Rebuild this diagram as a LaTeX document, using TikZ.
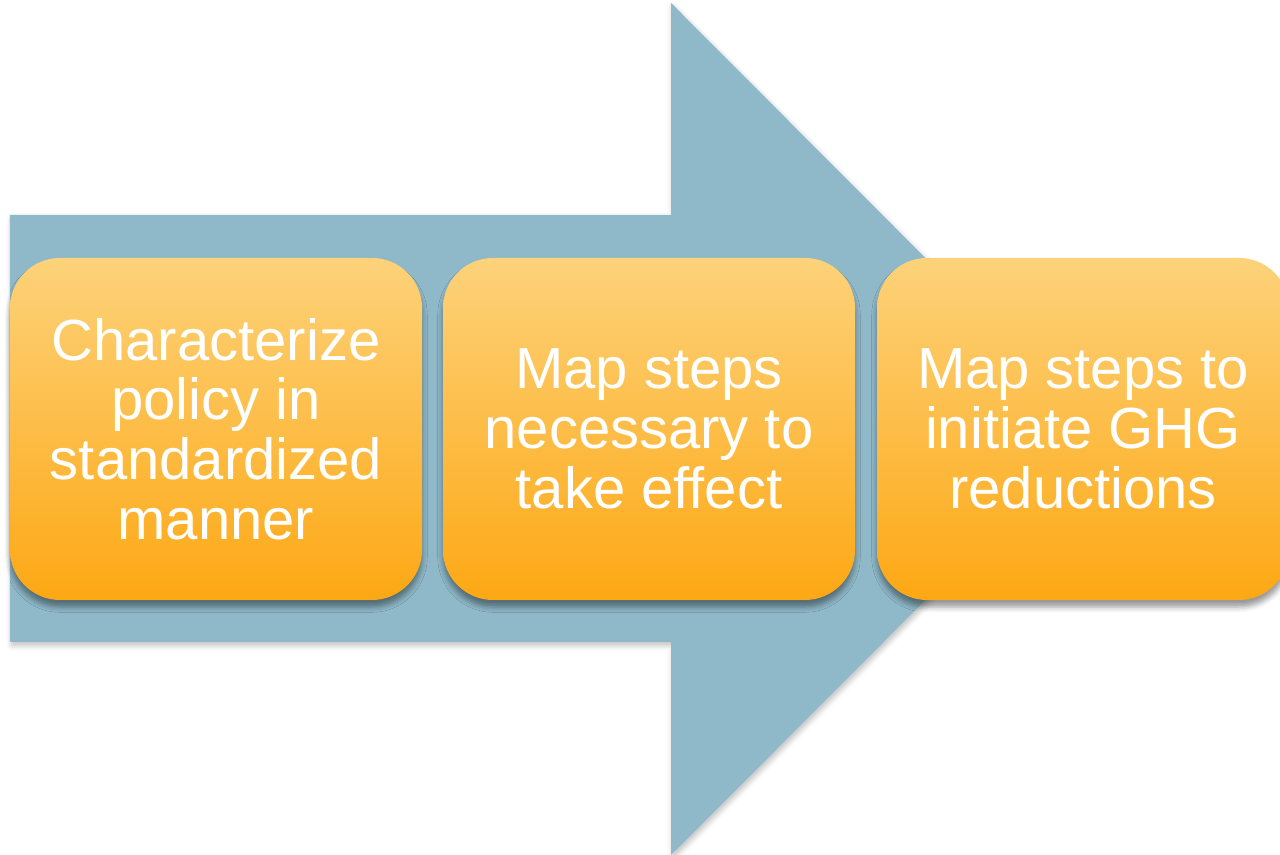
\documentclass[tikz,border=0pt]{standalone}
\usepackage{fontspec}
\setmainfont{Liberation Sans}
\usetikzlibrary{shadows.blur}
\definecolor{arrowblue}{HTML}{8FB8C8}
\definecolor{boxtop}{HTML}{FDD27A}
\definecolor{boxbottom}{HTML}{FDA814}
\tikzset{
  stage/.style={rounded corners=1cm, minimum width=8.24cm, minimum height=6.84cm,
    top color=boxtop, bottom color=boxbottom, align=center, text=white,
    font=\fontsize{33}{34}\selectfont,
    blur shadow={shadow xshift=0pt, shadow yshift=-4pt, shadow blur radius=3pt, shadow opacity=40}}
}
\begin{document}
\begin{tikzpicture}
  \useasboundingbox (0,0) rectangle (25.6,17.1);

  % draw arrow
  \fill[arrowblue, blur shadow={shadow xshift=1pt, shadow yshift=-2pt, shadow blur radius=3pt, shadow opacity=25}]
    (0.2,12.8) -- (13.42,12.8) -- (13.42,17.04) -- (21.92,8.52)
    -- (13.42,0) -- (13.42,4.26) -- (0.2,4.26) -- cycle;

  \node[stage] at (4.32,8.52) (a) {Characterize\\policy in\\standardized\\manner};
  \node[stage] at (12.98,8.52) (b) {Map steps\\necessary to\\take effect};
  \node[stage] at (21.66,8.52) (c) {Map steps to\\initiate GHG\\reductions};
\end{tikzpicture}
\end{document}
